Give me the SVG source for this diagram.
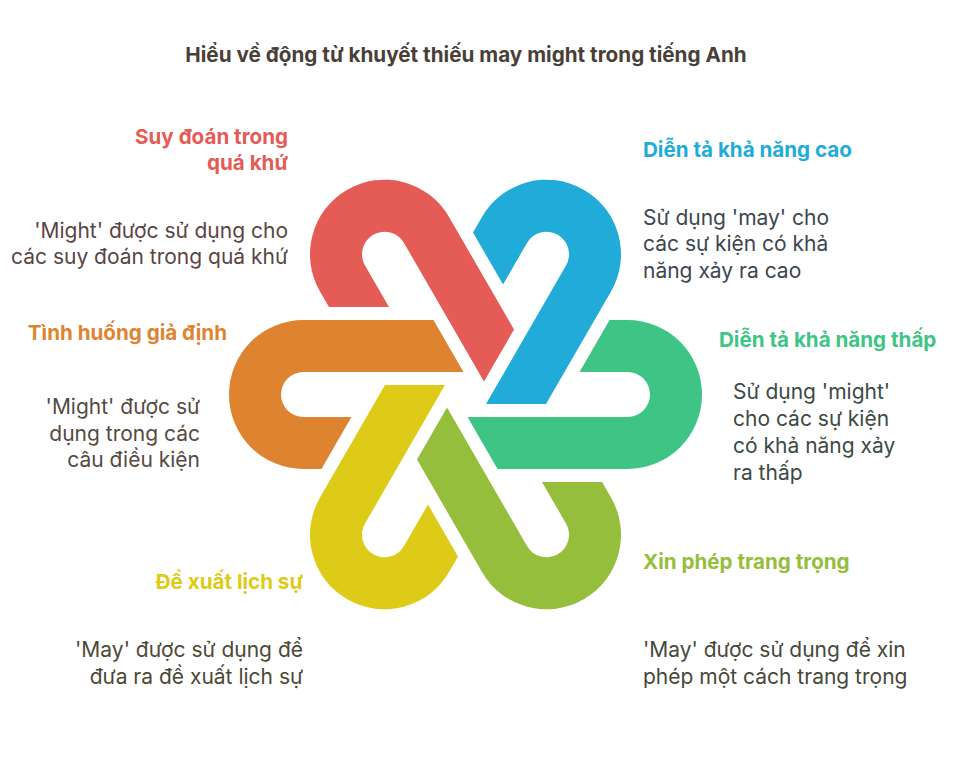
<svg xmlns="http://www.w3.org/2000/svg" xmlns:xlink="http://www.w3.org/1999/xlink" width="960" height="772" viewBox="0 0 960 772">
<style>
text{font-family:Inter,Roboto,"Liberation Sans",sans-serif}
.title{font-size:20.7px;font-weight:700;fill:#4a3f38}
.lab{font-size:20.6px;font-weight:700}
.body{font-size:21px}
.r{text-anchor:end}
</style>
<defs>
<path id="hook" d="M -162,-74.5 L -32.04,-74.5 L -2.02,-22.5 L -162,-22.5 A 22.5 22.5 0 0 0 -162,22.5 L -114.03,22.5 L -144.05,74.5 L -162,74.5 A 74.5 74.5 0 0 1 -162,-74.5 Z"/>
</defs>
<rect width="960" height="772" fill="#fff"/>
<text class="title" x="466" y="62" text-anchor="middle">Hiểu về động từ khuyết thiếu may might trong tiếng Anh</text>

<g id="orange">
<use xlink:href="#hook" href="#hook" fill="#DE8431" transform="translate(465.5,394.5)"/>
<text class="lab r" x="227" y="340" fill="#DE8431">Tình huống giả định</text>
<text class="body r" fill="#554a3f"><tspan x="200" y="414">'Might' được sử</tspan><tspan x="200" y="441">dụng trong các</tspan><tspan x="200" y="467">câu điều kiện</tspan></text>
</g>
<g id="red">
<use xlink:href="#hook" href="#hook" fill="#E55B55" transform="translate(465.5,394.5) rotate(60)"/>
<text class="lab r" fill="#E55B55"><tspan x="288" y="144">Suy đoán trong</tspan><tspan x="288" y="170">quá khứ</tspan></text>
<text class="body r" fill="#5a4444"><tspan x="288" y="238">'Might' được sử dụng cho</tspan><tspan x="288" y="264">các suy đoán trong quá khứ</tspan></text>
</g>
<g id="blue">
<use xlink:href="#hook" href="#hook" fill="#20ABD9" transform="translate(465.5,394.5) rotate(120)"/>
<text class="lab" x="643" y="157" fill="#20ABD9">Diễn tả khả năng cao</text>
<text class="body" fill="#3b4650"><tspan x="643" y="225">Sử dụng 'may' cho</tspan><tspan x="643" y="251">các sự kiện có khả</tspan><tspan x="643" y="278">năng xảy ra cao</tspan></text>
</g>
<g id="green">
<use xlink:href="#hook" href="#hook" fill="#3EC585" transform="translate(465.5,394.5) rotate(180)"/>
<text class="lab" x="719" y="347" fill="#3EC585">Diễn tả khả năng thấp</text>
<text class="body" fill="#3b4a44"><tspan x="733" y="399">Sử dụng 'might'</tspan><tspan x="733" y="426">cho các sự kiện</tspan><tspan x="733" y="453">có khả năng xảy</tspan><tspan x="733" y="480">ra thấp</tspan></text>
</g>
<g id="lime">
<use xlink:href="#hook" href="#hook" fill="#94BE3B" transform="translate(465.5,394.5) rotate(240)"/>
<text class="lab" x="643" y="569" fill="#94BE3B">Xin phép trang trọng</text>
<text class="body" fill="#45483a"><tspan x="643" y="657">'May' được sử dụng để xin</tspan><tspan x="643" y="684">phép một cách trang trọng</tspan></text>
</g>
<g id="yellow">
<use xlink:href="#hook" href="#hook" fill="#DECB18" transform="translate(465.5,394.5) rotate(300)"/>
<text class="lab r" x="303" y="589" fill="#DECB18">Đề xuất lịch sự</text>
<text class="body r" fill="#4d4835"><tspan x="303" y="657">'May' được sử dụng để</tspan><tspan x="303" y="684">đưa ra đề xuất lịch sự</tspan></text>
</g>
<g id="connectors"/>
</svg>
